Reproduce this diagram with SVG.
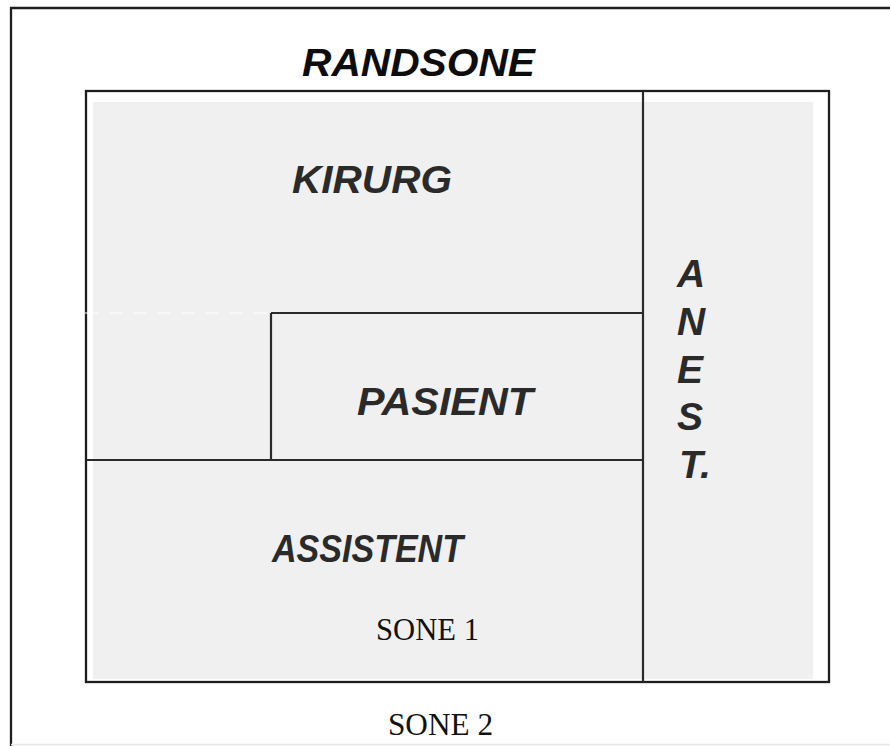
<svg xmlns="http://www.w3.org/2000/svg" width="890" height="746" viewBox="0 0 890 746">
  <style>
    .frame { fill: none; stroke: #1e1e1e; stroke-width: 2.3; }
    .wall { fill: none; stroke: #2a2a2a; stroke-width: 2.2; }
    .floor { fill: #f0f0f0; stroke: none; }
    .role { font-family: "Liberation Sans", Arial, sans-serif; font-weight: bold; font-style: italic; font-size: 39px; fill: #2a2a2a; }
    .title { font-family: "Liberation Sans", Arial, sans-serif; font-weight: bold; font-style: italic; font-size: 39px; fill: #0d0d0d; }
    .zone { font-family: "Liberation Serif", "Times New Roman", serif; font-size: 31px; fill: #111; }
  </style>

  <rect width="890" height="746" fill="#ffffff"/>

  <!-- outer boundary (zone 2) -->
  <g id="randsone">
    <path class="frame" d="M11,746 V8 H890"/>
    <line x1="11" y1="744.5" x2="890" y2="744.5" stroke="#e8e8e8" stroke-width="1.5"/>
    <text class="title" x="302" y="76" textLength="233" lengthAdjust="spacingAndGlyphs">RANDSONE</text>
    <text class="zone" x="388" y="735" textLength="105" lengthAdjust="spacingAndGlyphs">SONE 2</text>
  </g>

  <!-- sterile area (zone 1) -->
  <g id="sone1">
    <rect class="floor" x="93" y="102" width="720" height="577"/>
    <rect class="frame" x="86" y="91" width="743" height="591"/>
    <text class="zone" x="376" y="640" textLength="103" lengthAdjust="spacingAndGlyphs">SONE 1</text>
  </g>

  <!-- internal partitions -->
  <g id="connectors">
    <line class="wall" x1="643" y1="91" x2="643" y2="682"/>
    <line class="wall" x1="271" y1="313" x2="643" y2="313"/>
    <line class="wall" x1="271" y1="313" x2="271" y2="460"/>
    <line class="wall" x1="86" y1="460" x2="643" y2="460"/>
    <line x1="85" y1="313" x2="271" y2="313" stroke="#ffffff" stroke-width="2" stroke-dasharray="14 10" opacity="0.5"/>
  </g>

  <g id="kirurg">
    <text class="role" x="292" y="193" textLength="160" lengthAdjust="spacingAndGlyphs">KIRURG</text>
  </g>

  <g id="pasient">
    <text class="role" x="357" y="415" textLength="176" lengthAdjust="spacingAndGlyphs">PASIENT</text>
  </g>

  <g id="assistent">
    <text class="role" x="272" y="562" textLength="191" lengthAdjust="spacingAndGlyphs">ASSISTENT</text>
  </g>

  <g id="anest">
    <text class="role" x="677" y="287">A</text>
    <text class="role" x="677" y="335">N</text>
    <text class="role" x="677" y="383">E</text>
    <text class="role" x="677" y="430">S</text>
    <text class="role" x="679" y="478">T.</text>
  </g>
</svg>
